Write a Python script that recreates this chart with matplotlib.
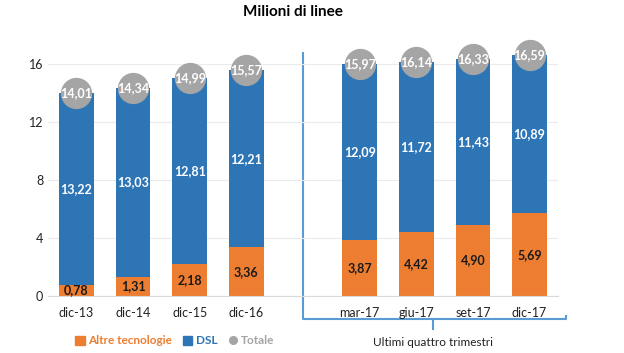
import numpy as np
import matplotlib
matplotlib.use("Agg")
import matplotlib.pyplot as plt
from matplotlib.lines import Line2D
from matplotlib.patches import Patch

plt.rcParams['font.family'] = ['Lato', 'DejaVu Sans']

# data
periodi = ["dic-13", "dic-14", "dic-15", "dic-16", "mar-17", "giu-17", "set-17", "dic-17"]
altre = [0.78, 1.31, 2.18, 3.36, 3.87, 4.42, 4.90, 5.69]
dsl = [13.22, 13.03, 12.81, 12.21, 12.09, 11.72, 11.43, 10.89]
totale = [14.01, 14.34, 14.99, 15.57, 15.97, 16.14, 16.33, 16.59]
yticks = [0, 4, 8, 12, 16]

c_orange = "#ED7D31"
c_blue = "#2E75B6"
c_grey = "#A5A5A5"
c_bracket = "#5B9BD5"

def fmt(v):
    return f"{v:.2f}".replace(".", ",")

# x positions: gap of one slot between yearly and quarterly data
xpos = np.array([0, 1, 2, 3, 5, 6, 7, 8])
altre = np.array(altre)
dsl = np.array(dsl)

fig = plt.figure(figsize=(6.24, 3.53), dpi=100)
ax = fig.add_axes([0.077, 0.1615, 0.817, 0.74])

w = 0.61
ax.bar(xpos, altre, width=w, color=c_orange, zorder=2)
ax.bar(xpos, dsl, width=w, bottom=altre, color=c_blue, zorder=2)
ax.plot(xpos, totale, 'o', color=c_grey, markersize=21.5, zorder=3)

for x, a, d, t in zip(xpos, altre, dsl, totale):
    ax.text(x, a / 2, fmt(a), ha='center', va='center', fontsize=9,
            fontweight='bold', color='#1a1a1a', zorder=4)
    ax.text(x, a + d / 2, fmt(d), ha='center', va='center', fontsize=9,
            fontweight='bold', color='white', zorder=4)
    ax.text(x, t, fmt(t), ha='center', va='center', fontsize=9,
            fontweight='bold', color='white', zorder=4)

ax.set_xlim(-0.5, 8.5)
ax.set_ylim(0, 18)
ax.set_yticks(yticks)
ax.set_xticks(xpos)
ax.set_xticklabels(periodi)
ax.tick_params(length=0, labelsize=9, colors='#222222')
ax.tick_params(axis='x', pad=8)
ax.grid(axis='y', color='#EBEBEB', linewidth=0.8, zorder=0)
for s in ['top', 'right', 'left']:
    ax.spines[s].set_visible(False)
ax.spines['bottom'].set_color('#D9D9D9')

# bracket for the last four quarters
ax.plot([4, 4, 8.64, 8.64], [16.76, -1.59, -1.59, -1.35], color=c_bracket,
        lw=1.5, clip_on=False, zorder=1)
ax.plot([6.3, 6.3], [-1.59, -2.3], color=c_bracket, lw=1.5, clip_on=False)
fig.text(433 / 624, 1 - 342 / 353, "Ultimi quattro trimestri", ha='center',
         va='center', fontsize=8.5, color='#222222')

fig.text(293 / 624, 1 - 12 / 353, "Milioni di linee", ha='center', va='center',
         fontsize=11, fontweight='bold')

handles = [Patch(color=c_orange), Patch(color=c_blue),
           Line2D([], [], marker='o', ls='', color=c_grey, markersize=5.5)]
leg = fig.legend(handles, ["Altre tecnologie", "DSL", "Totale"], loc='center',
                 bbox_to_anchor=(175 / 624, 1 - 341 / 353), ncol=3, frameon=False,
                 fontsize=8.5, handlelength=0.8, handleheight=0.8,
                 handletextpad=0.3, columnspacing=0.9)
for txt, col in zip(leg.get_texts(), [c_orange, c_blue, c_grey]):
    txt.set_color(col)
    txt.set_fontweight('bold')

fig.savefig("out.png", dpi=100)
